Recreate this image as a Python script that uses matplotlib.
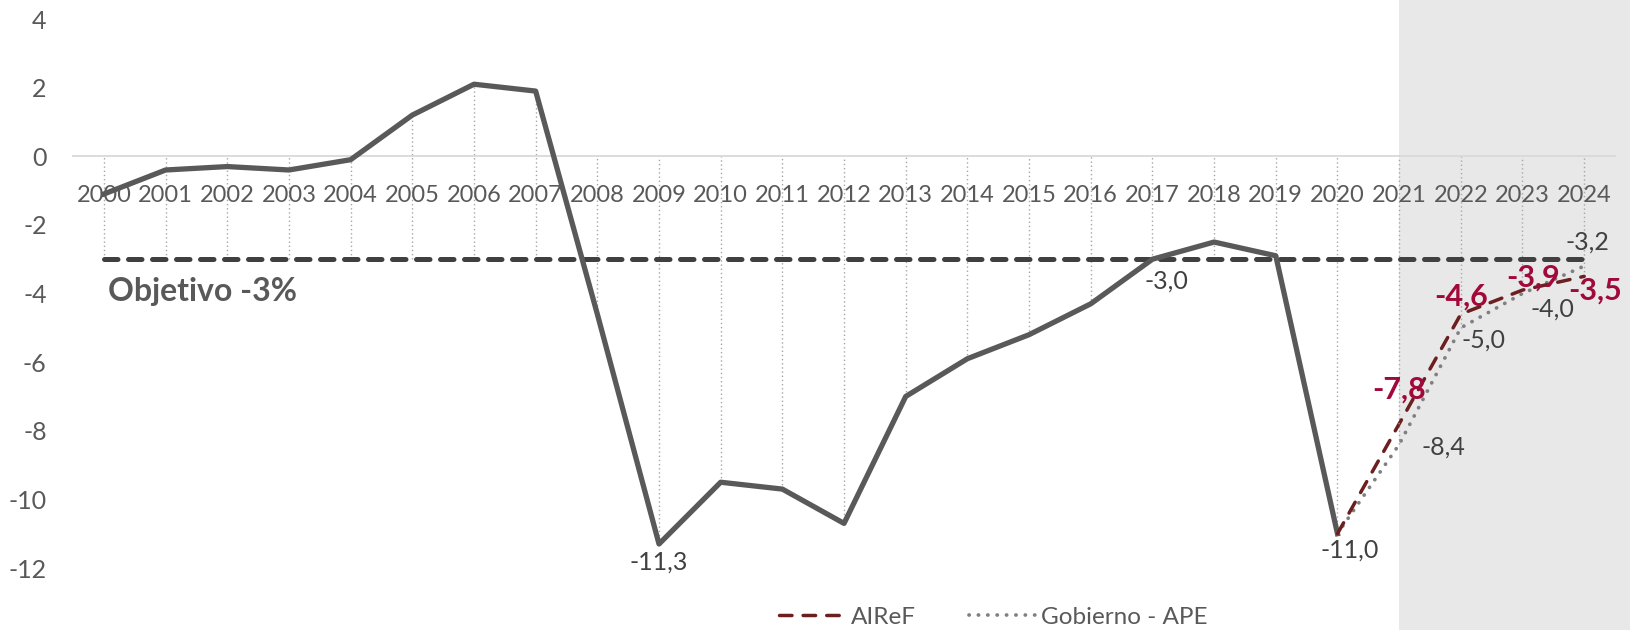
import matplotlib.pyplot as plt

plt.rcParams['font.family'] = ['Lato', 'DejaVu Sans']

# Saldo de las AAPP (% PIB)
years = list(range(2000, 2025))
hist_years = list(range(2000, 2021))
saldo = [-1.1, -0.4, -0.3, -0.4, -0.1, 1.2, 2.1, 1.9, -4.6, -11.3, -9.5,
         -9.7, -10.7, -7.0, -5.9, -5.2, -4.3, -3.0, -2.5, -2.9, -11.0]
proy_years = [2020, 2021, 2022, 2023, 2024]
airef = [-11.0, -7.8, -4.6, -3.9, -3.5]
gobierno = [-11.0, -8.4, -5.0, -4.0, -3.2]
objetivo = [-3.0] * len(years)
yticks = [4, 2, 0, -2, -4, -6, -8, -10, -12]

GRIS = '#595959'
OSCURO = '#404040'
ROJO = '#a0093a'


def fmt(v):
    return f"{v:.1f}".replace(".", ",")


fig = plt.figure(figsize=(16.31, 6.30), dpi=100)
ax = fig.add_axes([0.0448, 0.0984, 0.9454, 0.8714])
ax.set_facecolor('none')

# zona de proyecciones
ax.axvspan(2021, 2030, ymin=-1, ymax=2, color='#e8e8e8', lw=0,
           clip_on=False, zorder=0)

# lineas de unión con el eje
series = {y: [0.0] for y in years}
for y, v in zip(years, objetivo):
    series[y].append(v)
for y, v in zip(hist_years, saldo):
    series[y].append(v)
for y, a, g in zip(proy_years, airef, gobierno):
    series[y] += [a, g]
ax.vlines(years, [min(series[y]) for y in years], [max(series[y]) for y in years],
          colors='#a6a6a6', linestyles=(0, (1, 2)), lw=1.0, zorder=1)

ax.plot(years, objetivo, color=OSCURO, lw=3.6, dashes=(2.7, 2.1),
        dash_capstyle='round', zorder=2)
ax.plot(hist_years, saldo, color=GRIS, lw=3.8, solid_joinstyle='round', zorder=3)
l_gob, = ax.plot(proy_years, gobierno, color='#808080', lw=2.7, dashes=(0.05, 2.45),
                 dash_capstyle='round', zorder=4, label='Gobierno - APE')
l_air, = ax.plot(proy_years, airef, color='#6b1f1f', lw=2.5, dashes=(3.6, 3.2),
                 dash_capstyle='round', zorder=4, label='AIReF')

# etiquetas de datos
hist_lab = {2009: (0, -18), 2017: (14, -22), 2020: (12, -16)}
for y, off in hist_lab.items():
    v = saldo[hist_years.index(y)]
    ax.annotate(fmt(v), (y, v), xytext=off, textcoords='offset pixels',
                ha='center', va='center', fontsize=18, color=OSCURO, zorder=6)

gob_lab = {2021: (44, -3), 2022: (23, -12), 2023: (30, -16), 2024: (3, 24)}
for y, off in gob_lab.items():
    v = gobierno[proy_years.index(y)]
    ax.annotate(fmt(v), (y, v), xytext=off, textcoords='offset pixels',
                ha='center', va='center', fontsize=18, color=OSCURO, zorder=6)

air_lab = {2021: (0, 34), 2022: (0, 18), 2023: (11, 12), 2024: (11, -14)}
for y, off in air_lab.items():
    v = airef[proy_years.index(y)]
    arrow = dict(arrowstyle='-', color='#a6a6a6', lw=0.8, shrinkA=12, shrinkB=1) if y == 2021 else None
    ax.annotate(fmt(v), (y, v), xytext=off, textcoords='offset pixels',
                ha='center', va='center', fontsize=22, fontweight='bold',
                color=ROJO, zorder=6, arrowprops=arrow)

ax.annotate('Objetivo -3%', (2000, -3), xytext=(4, -32), textcoords='offset pixels',
            ha='left', va='center', fontsize=23, fontweight='bold', color=GRIS)

# ejes
ax.set_xlim(1999.5, 2024.5)
ax.set_ylim(-12, 4)
for s in ['top', 'right', 'left']:
    ax.spines[s].set_visible(False)
ax.spines['bottom'].set_position(('data', 0))
ax.spines['bottom'].set_color('#d9d9d9')
ax.spines['bottom'].set_linewidth(1.3)
ax.spines['bottom'].set_zorder(1.5)
ax.set_xticks(years)
ax.set_xticklabels([str(y) for y in years])
ax.set_yticks(yticks)
ax.set_yticklabels([str(t) for t in yticks])
ax.tick_params(axis='x', length=0, pad=21, labelsize=17, labelcolor=GRIS)
ax.tick_params(axis='y', length=0, pad=19, labelsize=18, labelcolor=GRIS)

fig.legend([l_air, l_gob], ['AIReF', 'Gobierno - APE'], loc='center',
           bbox_to_anchor=(0.609, 0.02), ncol=2, frameon=False, fontsize=17.5,
           handlelength=2.8, handletextpad=0.15, columnspacing=2.2,
           labelcolor=GRIS)

fig.savefig('out.png', dpi=100)
